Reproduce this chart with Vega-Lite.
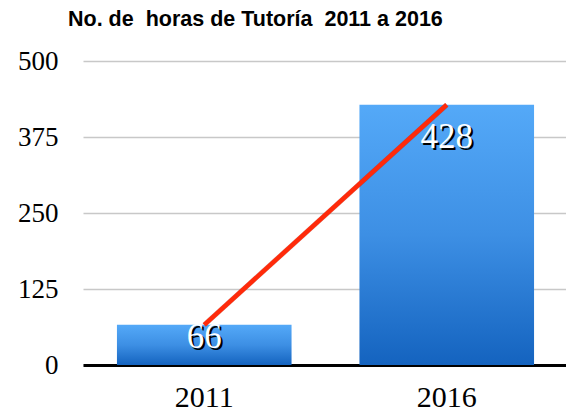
{
  "$schema": "https://vega.github.io/schema/vega-lite/v6.json",
  "autosize": {"type": "none"},
  "padding": {"left": 83, "top": 61, "right": 0, "bottom": 49},
  "width": 485,
  "height": 304,
  "background": "white",
  "title": {
    "text": "No. de\u00a0 horas de Tutoría\u00a0 2011 a 2016",
    "font": "Liberation Sans",
    "fontSize": 21.5,
    "fontWeight": "bold",
    "color": "black",
    "anchor": "start",
    "frame": "group",
    "dx": -15,
    "offset": 17
  },
  "config": {
    "view": {"stroke": null},
    "style": {"serifLabel": {"font": "Liberation Serif", "fontSize": 35, "fontStyle": "normal", "fontWeight": "normal"}}
  },
  "data": {"values": [
    {"year": "2011", "hours": 66},
    {"year": "2016", "hours": 428}
  ]},
  "encoding": {
    "x": {
      "field": "year", "type": "nominal",
      "scale": {"paddingInner": 0.28, "paddingOuter": 0.14},
      "axis": {
        "title": null, "labelAngle": 0, "ticks": false,
        "domainColor": "black", "domainWidth": 3,
        "labelFont": "Liberation Serif", "labelFontSize": 30,
        "labelColor": "black", "labelPadding": 17
      }
    },
    "y": {
      "field": "hours", "type": "quantitative",
      "scale": {"domain": [0, 500], "nice": false},
      "axis": {
        "title": null, "values": [0, 125, 250, 375, 500],
        "domain": false, "ticks": false,
        "gridColor": "#c8c8c8", "gridWidth": 1.5,
        "labelFont": "Liberation Serif", "labelFontSize": 27,
        "labelColor": "black", "labelPadding": 25
      }
    }
  },
  "layer": [
    {
      "mark": {
        "type": "bar",
        "color": {
          "gradient": "linear", "x1": 0, "y1": 0, "x2": 0, "y2": 1,
          "stops": [
            {"offset": 0, "color": "#54a9f8"},
            {"offset": 0.5, "color": "#3d8fe4"},
            {"offset": 1, "color": "#1463bf"}
          ]
        }
      }
    },
    {
      "mark": {"type": "line", "color": "#7a1a10", "strokeWidth": 5, "opacity": 0.35, "dx": 1, "dy": 1.5},
      "encoding": {}
    },
    {
      "mark": {"type": "line", "color": "#ff2a0a", "strokeWidth": 4.5},
      "encoding": {}
    },
    {
      "transform": [{"filter": "datum.hours < 200"}],
      "mark": {"type": "text", "style": "serifLabel", "font": "Liberation Serif", "fontSize": 35, "fill": "#000000", "fillOpacity": 1, "baseline": "middle", "align": "center", "dx": 2, "dy": 14},
      "encoding": {"text": {"field": "hours", "type": "quantitative"}}
    },
    {
      "transform": [{"filter": "datum.hours < 200"}],
      "mark": {"type": "text", "style": "serifLabel", "font": "Liberation Serif", "fontSize": 35, "fill": "#ffffff", "baseline": "middle", "align": "center", "dy": 12},
      "encoding": {"text": {"field": "hours", "type": "quantitative"}}
    },
    {
      "transform": [{"filter": "datum.hours >= 200"}],
      "mark": {"type": "text", "style": "serifLabel", "font": "Liberation Serif", "fontSize": 35, "fill": "#000000", "fillOpacity": 1, "baseline": "middle", "align": "center", "dx": 2, "dy": 34},
      "encoding": {"text": {"field": "hours", "type": "quantitative"}}
    },
    {
      "transform": [{"filter": "datum.hours >= 200"}],
      "mark": {"type": "text", "style": "serifLabel", "font": "Liberation Serif", "fontSize": 35, "fill": "#ffffff", "baseline": "middle", "align": "center", "dy": 32},
      "encoding": {"text": {"field": "hours", "type": "quantitative"}}
    }
  ]
}
